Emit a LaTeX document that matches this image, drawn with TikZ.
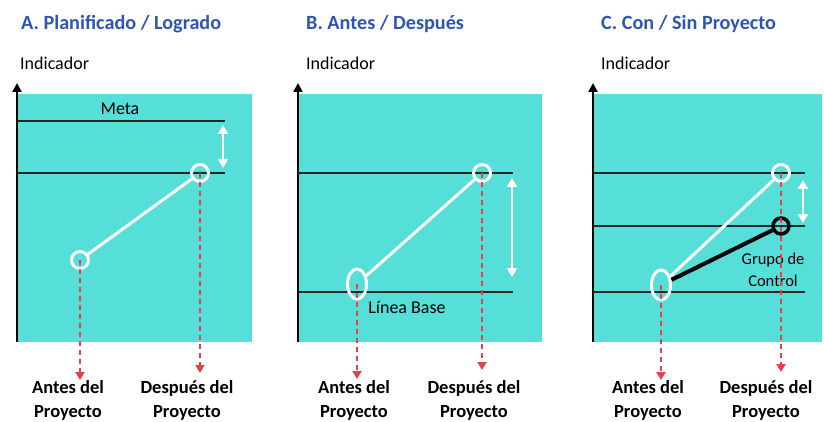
\documentclass[tikz,border=0pt]{standalone}
\usepackage{fontspec}
\setmainfont{Carlito}
\usetikzlibrary{arrows.meta,shapes.geometric}
\definecolor{fondo}{RGB}{86,222,217}
\definecolor{azultit}{RGB}{47,84,180}
\definecolor{rojo}{RGB}{232,64,72}
\begin{document}
\begin{tikzpicture}[x=1pt, y=-1pt, line join=miter,
    tit/.style={anchor=base west, inner sep=0pt, text=azultit, font=\fontsize{20.2}{23}\selectfont\bfseries},
    ejey/.style={anchor=base west, inner sep=0pt, font=\fontsize{18}{22}\selectfont},
    eje/.style={line width=2.5pt, -{Triangle[width=9pt,length=9pt]}},
    nivel/.style={line width=1.5pt, black!85},
    hito/.style={circle, draw=white, line width=3pt, minimum size=17pt, inner sep=0pt},
    hitobase/.style={ellipse, draw=white, line width=3pt, minimum width=19pt, minimum height=30pt, inner sep=0pt},
    control/.style={circle, draw=black, line width=3.5pt, minimum size=16pt, inner sep=0pt},
    avance/.style={draw=white, line width=3pt},
    brecha/.style={draw=white, line width=2.5pt, {Triangle[width=10pt,length=9pt]}-{Triangle[width=10pt,length=9pt]}},
    guia/.style={draw=rojo, line width=2pt, dash pattern=on 5pt off 4pt, -{Triangle[width=9pt,length=8pt]}},
    etiq/.style={align=center, inner sep=0pt, anchor=base, font=\fontsize{18.5}{24}\selectfont\bfseries},
    nota/.style={inner sep=0pt, anchor=base, font=\fontsize{18}{22}\selectfont}]
    \useasboundingbox (0,0) rectangle (824,422);

    % A. Planificado / Logrado
    \node[tit] (titA) at (21,30) {A. Planificado / Logrado};
    \node[ejey] (indA) at (20,70) {Indicador};
    \fill[fondo] (17,94) rectangle (252,342);
    \draw[eje] (17,342) -- (17,83);
    \draw[nivel] (17,121) -- (225,121);
    \draw[nivel] (17,173) -- (225,173);
    \node[nota] (meta) at (120,115) {Meta};
    \coordinate (brAtop) at (223,125);
    \coordinate (brAbot) at (223,168);
    \draw[brecha] (brAtop) -- (brAbot);
    \node[hito] (antesA) at (80,260) {};
    \node[hito] (despA) at (200,173) {};
    \draw[avance] (antesA) -- (despA);
    \coordinate (finAntesA) at (80,380);
    \coordinate (finDespA) at (200,373);
    \draw[guia] (antesA.center) -- (finAntesA);
    \draw[guia] (despA.center) -- (finDespA);
    \node[etiq] (lblAntesA) at (68,417) {Antes del\\Proyecto};
    \node[etiq] (lblDespA) at (187,417) {Después del\\Proyecto};

    % B. Antes / Después
    \node[tit] (titB) at (306,30) {B. Antes / Después};
    \node[ejey] (indB) at (306,70) {Indicador};
    \fill[fondo] (298,94) rectangle (542,342);
    \draw[eje] (298,342) -- (298,83);
    \draw[nivel] (298,173) -- (513,173);
    \draw[nivel] (298,292) -- (513,292);
    \node[nota] (lineabase) at (407,313) {Línea Base};
    \coordinate (brBtop) at (512,178);
    \coordinate (brBbot) at (512,277);
    \draw[brecha] (brBtop) -- (brBbot);
    \node[hitobase] (antesB) at (357,284) {};
    \node[hito] (despB) at (482,173) {};
    \draw[avance] (antesB) -- (despB);
    \coordinate (finAntesB) at (357,379);
    \coordinate (finDespB) at (482,370);
    \draw[guia] (antesB.center) -- (finAntesB);
    \draw[guia] (despB.center) -- (finDespB);
    \node[etiq] (lblAntesB) at (354,417) {Antes del\\Proyecto};
    \node[etiq] (lblDespB) at (474,417) {Después del\\Proyecto};

    % C. Con / Sin Proyecto
    \node[tit] (titC) at (601,30) {C. Con / Sin Proyecto};
    \node[ejey] (indC) at (601,70) {Indicador};
    \fill[fondo] (593,94) rectangle (822,342);
    \draw[eje] (593,342) -- (593,83);
    \draw[nivel] (593,173) -- (805,173);
    \draw[nivel] (593,226) -- (805,226);
    \draw[nivel] (593,292) -- (805,292);
    \coordinate (brCtop) at (803,180);
    \coordinate (brCbot) at (803,223);
    \draw[brecha] (brCtop) -- (brCbot);
    \node[hitobase] (antesC) at (661,285) {};
    \node[hito] (despC) at (781,173) {};
    \node[control] (grupoC) at (781,226) {};
    \draw[avance] (antesC) -- (despC);
    \draw[line width=4pt] (antesC) -- (grupoC);
    \node[align=center, inner sep=0pt, anchor=base, font=\fontsize{16.5}{22}\selectfont] (lblGrupo) at (773,286) {Grupo de\\Control};
    \coordinate (finAntesC) at (661,380);
    \coordinate (finDespC) at (781,372);
    \draw[guia] (antesC.center) -- (finAntesC);
    \draw[guia] (despC.center) -- (finDespC);
    \node[etiq] (lblAntesC) at (648,417) {Antes del\\Proyecto};
    \node[etiq] (lblDespC) at (766,417) {Después del\\Proyecto};
\end{tikzpicture}
\end{document}
